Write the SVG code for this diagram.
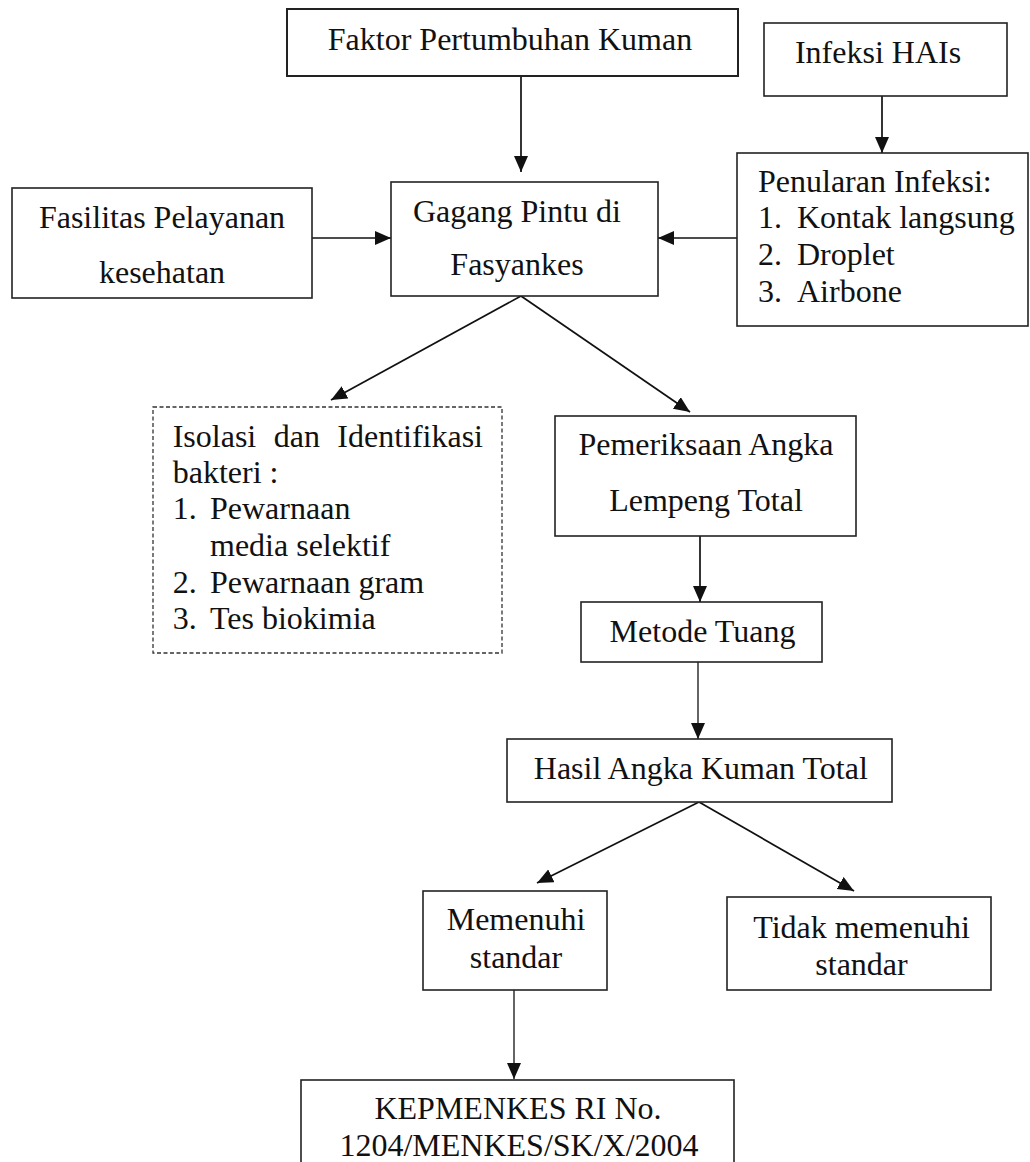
<svg xmlns="http://www.w3.org/2000/svg" width="1030" height="1162" viewBox="0 0 1030 1162">
<defs>
<style>
.box{fill:#fff;stroke:#222;stroke-width:1.6}
.dash{fill:#fff;stroke:#333;stroke-width:1.3;stroke-dasharray:4 2.5}
.t{font-family:"Liberation Serif","Times New Roman",serif;font-size:32px;fill:#111}
.c{text-anchor:middle}
.ln{stroke:#111;stroke-width:1.7;fill:none;marker-end:url(#ah)}
.thin{stroke-width:1.3}
</style>
<marker id="ah" markerUnits="userSpaceOnUse" markerWidth="17" markerHeight="15" refX="16" refY="7" orient="auto">
<path d="M0,0 L16,7 L0,14 z" fill="#111"/>
</marker>
</defs>
<rect width="1030" height="1162" fill="#fff"/>

<g id="connectors">
<line class="ln" x1="521" y1="76" x2="521" y2="172"/>
<line class="ln" x1="882" y1="96" x2="882" y2="153"/>
<line class="ln" x1="312" y1="238" x2="391" y2="238"/>
<line class="ln" x1="737" y1="238" x2="658" y2="238"/>
<line class="ln" x1="521" y1="296" x2="331" y2="400"/>
<line class="ln" x1="521" y1="296" x2="690" y2="412"/>
<line class="ln" x1="700" y1="536" x2="700" y2="602"/>
<line class="ln thin" x1="698" y1="662" x2="698" y2="739"/>
<line class="ln" x1="699" y1="802" x2="537" y2="883"/>
<line class="ln" x1="699" y1="802" x2="854" y2="891"/>
<line class="ln thin" x1="514" y1="990" x2="514" y2="1079"/>
</g>

<g id="faktor">
<rect class="box" x="287" y="9" width="451" height="67" style="stroke-width:2"/>
<text class="t c" x="510" y="49.5">Faktor Pertumbuhan Kuman</text>
</g>

<g id="infeksi">
<rect class="box" x="764" y="23" width="243" height="73"/>
<text class="t c" x="878" y="63">Infeksi HAIs</text>
</g>

<g id="fasilitas">
<rect class="box" x="12" y="188" width="300" height="110"/>
<text class="t c" x="162" y="228.3">Fasilitas Pelayanan</text>
<text class="t c" x="162" y="283.3">kesehatan</text>
</g>

<g id="gagang">
<rect class="box" x="391" y="182" width="267" height="114"/>
<text class="t c" x="517" y="221.7">Gagang Pintu di</text>
<text class="t c" x="517" y="275">Fasyankes</text>
</g>

<g id="penularan">
<rect class="box" x="737" y="153" width="291" height="173"/>
<text class="t" x="758" y="191.7">Penularan Infeksi:</text>
<text class="t" y="228"><tspan x="758">1.</tspan><tspan x="797">Kontak langsung</tspan></text>
<text class="t" y="265"><tspan x="758">2.</tspan><tspan x="797">Droplet</tspan></text>
<text class="t" y="301.7"><tspan x="758">3.</tspan><tspan x="797">Airbone</tspan></text>
</g>

<g id="isolasi">
<rect class="dash" x="153" y="407" width="349" height="246"/>
<text class="t" y="446.7"><tspan x="172.7">Isolasi</tspan><tspan x="273.7">dan</tspan><tspan x="483" text-anchor="end">Identifikasi</tspan></text>
<text class="t" x="172.7" y="482.7">bakteri :</text>
<text class="t" y="519"><tspan x="172.7">1.</tspan><tspan x="210">Pewarnaan</tspan></text>
<text class="t" x="210" y="556">media selektif</text>
<text class="t" y="592.7"><tspan x="172.7">2.</tspan><tspan x="210">Pewarnaan gram</tspan></text>
<text class="t" y="629.3"><tspan x="172.7">3.</tspan><tspan x="210">Tes biokimia</tspan></text>
</g>

<g id="pemeriksaan">
<rect class="box" x="555" y="416" width="301" height="120"/>
<text class="t c" x="706" y="455">Pemeriksaan Angka</text>
<text class="t c" x="706" y="510.7">Lempeng Total</text>
</g>

<g id="metode">
<rect class="box" x="581" y="602" width="241" height="60"/>
<text class="t c" x="702.5" y="641.7">Metode Tuang</text>
</g>

<g id="hasil">
<rect class="box" x="507" y="739" width="385" height="63"/>
<text class="t c" x="700.8" y="779">Hasil Angka Kuman Total</text>
</g>

<g id="memenuhi">
<rect class="box" x="423" y="891" width="184" height="99"/>
<text class="t c" x="516" y="930">Memenuhi</text>
<text class="t c" x="516" y="968.3">standar</text>
</g>

<g id="tidak">
<rect class="box" x="727" y="897" width="264" height="93"/>
<text class="t c" x="861.5" y="938.3">Tidak memenuhi</text>
<text class="t c" x="861.5" y="975">standar</text>
</g>

<g id="kepmenkes">
<rect class="box" x="301" y="1080" width="433" height="100"/>
<text class="t c" x="518" y="1119.3">KEPMENKES RI No.</text>
<text class="t c" x="519" y="1156">1204/MENKES/SK/X/2004</text>
</g>
</svg>
